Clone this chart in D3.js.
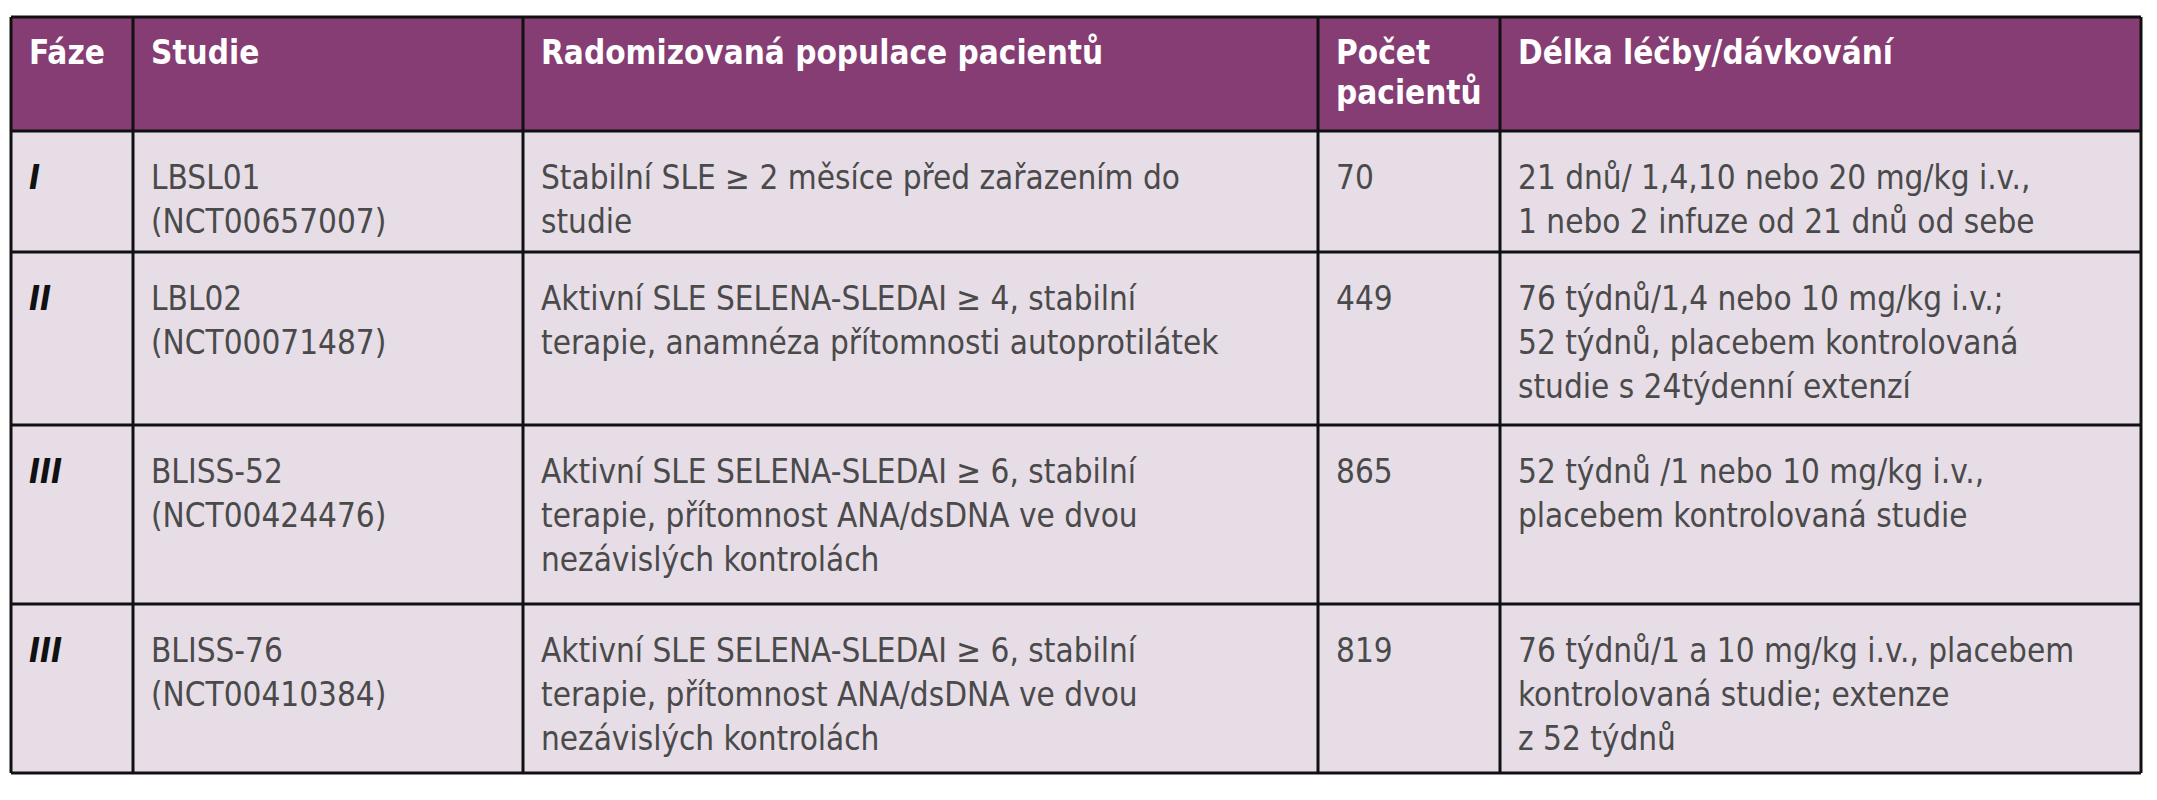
<!DOCTYPE html>
<html><head><meta charset="utf-8">
<script src="https://cdn.jsdelivr.net/npm/d3@7"></script>
<style>body{margin:0;background:#fff}</style>
</head><body>
<div class="tbl"></div>
<script>
var headers = [["Fáze"], ["Studie"], ["Radomizovaná populace pacientů"], ["Počet", "pacientů"], ["Délka léčby/dávkování"]];
var phases = ["I", "II", "III", "III"];
var studies = [["LBSL01", "(NCT00657007)"], ["LBL02", "(NCT00071487)"], ["BLISS-52", "(NCT00424476)"], ["BLISS-76", "(NCT00410384)"]];
var populations = [
  ["Stabilní SLE ≥ 2 měsíce před zařazením do", "studie"],
  ["Aktivní SLE SELENA-SLEDAI ≥ 4, stabilní", "terapie, anamnéza přítomnosti autoprotilátek"],
  ["Aktivní SLE SELENA-SLEDAI ≥ 6, stabilní", "terapie, přítomnost ANA/dsDNA ve dvou", "nezávislých kontrolách"],
  ["Aktivní SLE SELENA-SLEDAI ≥ 6, stabilní", "terapie, přítomnost ANA/dsDNA ve dvou", "nezávislých kontrolách"]];
var patients = [70, 449, 865, 819];
var dosing = [
  ["21 dnů/ 1,4,10 nebo 20 mg/kg i.v.,", "1 nebo 2 infuze od 21 dnů od sebe"],
  ["76 týdnů/1,4 nebo 10 mg/kg i.v.;", "52 týdnů, placebem kontrolovaná", "studie s 24týdenní extenzí"],
  ["52 týdnů /1 nebo 10 mg/kg i.v.,", "placebem kontrolovaná studie"],
  ["76 týdnů/1 a 10 mg/kg i.v., placebem", "kontrolovaná studie; extenze", "z 52 týdnů"]];

var colEdges = [11, 133, 523, 1318, 1500, 2141];
var rowEdges = [17, 131, 252, 425, 604, 773];

var svg = d3.select(".tbl").append("svg")
    .attr("width", 2157)
    .attr("height", 800);

// backgrounds
svg.append("rect")
    .attr("x", colEdges[0]).attr("y", rowEdges[0])
    .attr("width", colEdges[5] - colEdges[0]).attr("height", rowEdges[1] - rowEdges[0])
    .style("fill", "#853d73");
svg.append("rect")
    .attr("x", colEdges[0]).attr("y", rowEdges[1])
    .attr("width", colEdges[5] - colEdges[0]).attr("height", rowEdges[5] - rowEdges[1])
    .style("fill", "#e6dde6");

var font = "'Liberation Sans Narrow', 'DejaVu Sans Condensed', sans-serif";
var lh = 44;

// header
headers.forEach(function(h, c){
  h.forEach(function(line, i){
    svg.append("text")
       .attr("x", colEdges[c] + 18)
       .attr("y", rowEdges[0] + 47 + i * 40)
       .style("font-family", font)
       .style("font-size", "33px")
       .style("font-weight", "bold")
       .style("fill", "#fff")
       .text(line);
  });
});

// body
var columns = [
  phases.map(function(p){ return [p]; }),
  studies, populations,
  patients.map(function(p){ return [String(p)]; }),
  dosing];

columns.forEach(function(col, c){
  col.forEach(function(lines, r){
    lines.forEach(function(line, i){
      svg.append("text")
         .attr("x", colEdges[c] + 18)
         .attr("y", rowEdges[r + 1] + 58 + i * lh)
         .style("font-family", font)
         .style("font-size", "33px")
         .style("font-weight", c === 0 ? "bold" : "normal")
         .style("font-style", c === 0 ? "italic" : "normal")
         .style("fill", c === 0 ? "#111" : "#4a4a4a")
         .text(line);
    });
  });
});

// grid lines
colEdges.forEach(function(x){
  svg.append("line")
     .attr("x1", x).attr("x2", x)
     .attr("y1", rowEdges[0]).attr("y2", rowEdges[5])
     .style("stroke", "#111").style("stroke-width", 3);
});
rowEdges.forEach(function(y){
  svg.append("line")
     .attr("x1", colEdges[0]).attr("x2", colEdges[5])
     .attr("y1", y).attr("y2", y)
     .style("stroke", "#111").style("stroke-width", 3);
});
</script>
</body></html>
